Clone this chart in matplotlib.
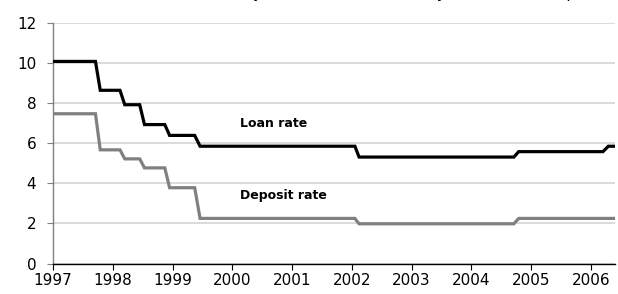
import matplotlib
matplotlib.use("Agg")
import matplotlib.pyplot as plt

# Line vertices (decimal year, percent)
loan_x = [1997.0, 1997.71, 1997.79, 1998.12, 1998.20, 1998.45, 1998.53,
          1998.87, 1998.95, 1999.37, 1999.46, 2002.05, 2002.12,
          2004.71, 2004.79, 2006.20, 2006.29, 2006.40]
loan_y = [10.08, 10.08, 8.64, 8.64, 7.92, 7.92, 6.93,
          6.93, 6.39, 6.39, 5.85, 5.85, 5.31,
          5.31, 5.58, 5.58, 5.85, 5.85]

deposit_x = [1997.0, 1997.71, 1997.79, 1998.12, 1998.20, 1998.45, 1998.53,
             1998.87, 1998.95, 1999.37, 1999.46, 2002.05, 2002.12,
             2004.71, 2004.79, 2006.40]
deposit_y = [7.47, 7.47, 5.67, 5.67, 5.22, 5.22, 4.77,
             4.77, 3.78, 3.78, 2.25, 2.25, 1.98,
             1.98, 2.25, 2.25]

years = list(range(1997, 2007))
y_ticks = [0, 2, 4, 6, 8, 10, 12]

plt.rcParams["font.family"] = ["DejaVu Sans"]

fig = plt.figure(figsize=(6.18, 2.94), dpi=100)
ax = fig.add_axes([0.0858, 0.1037, 0.9092, 0.8183])

# Title line, cut off at the top edge as in the source picture
fig.text(0.025, 1 + 2.0 / 294,
         "Benchmark interest rates set by the central bank: one-year loan and deposit,",
         fontsize=11, va="baseline", ha="left", color="black")

for t in y_ticks:
    ax.axhline(t, color="#d4d4d4", lw=1.2, zorder=1)

ax.plot(loan_x, loan_y, color="black", lw=2.3, zorder=3,
        solid_joinstyle="miter")
ax.plot(deposit_x, deposit_y, color="#808080", lw=2.3, zorder=3,
        solid_joinstyle="miter")

ax.text(2000.12, 6.99, "Loan rate", fontsize=9, fontweight="bold",
        ha="left", va="center")
ax.text(2000.12, 3.37, "Deposit rate", fontsize=9, fontweight="bold",
        ha="left", va="center")

ax.set_xlim(1997, 2006.4)
ax.set_ylim(0, 12)
ax.set_xticks(years)
ax.set_xticklabels([str(y) for y in years])
ax.set_yticks(y_ticks)

for s in ["top", "right"]:
    ax.spines[s].set_visible(False)
ax.spines["left"].set_color("#808080")
ax.spines["bottom"].set_color("black")
ax.spines["left"].set_linewidth(1.0)
ax.spines["bottom"].set_linewidth(1.0)

ax.tick_params(axis="x", direction="out", length=4, color="black",
               labelsize=11, pad=3)
ax.tick_params(axis="y", direction="out", length=4, color="#808080",
               labelsize=11, pad=8)

fig.savefig("out.png", dpi=100)
